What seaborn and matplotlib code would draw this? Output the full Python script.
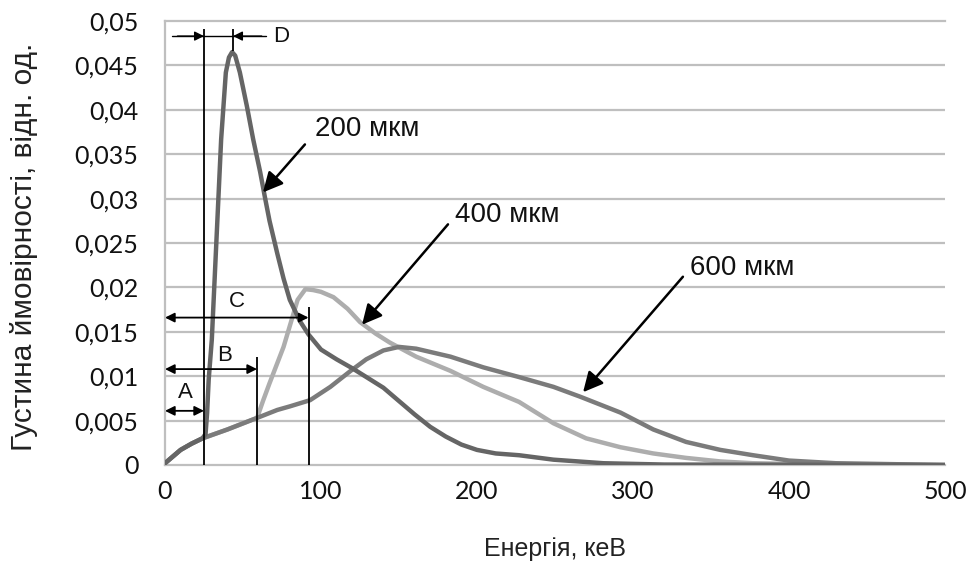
import matplotlib
matplotlib.use("Agg")
import matplotlib.pyplot as plt
import numpy as np
import pandas as pd
import seaborn as sns

# ---------------- data ----------------
series_names = ["200 мкм", "400 мкм", "600 мкм"]

e200 = [0, 4, 10, 17, 24, 26, 27, 28, 30, 33, 36, 39, 41, 43, 45, 48, 52.5, 56.5,
        61, 64, 67, 72, 76, 80, 86.5, 92, 100, 110, 120, 130, 140, 150, 160, 170,
        180, 190, 200, 212, 227, 249, 281, 320, 500]
p200 = [0.0002, 0.0008, 0.0017, 0.0024, 0.0030, 0.0035, 0.0059, 0.0096, 0.0141,
        0.0254, 0.0367, 0.0442, 0.0459, 0.0465, 0.0461, 0.0442, 0.0404, 0.0367,
        0.0330, 0.0302, 0.0275, 0.0238, 0.0210, 0.0186, 0.0162, 0.0147, 0.0130,
        0.0119, 0.0109, 0.0098, 0.0087, 0.0072, 0.0057, 0.0043, 0.0032, 0.0023,
        0.0017, 0.0013, 0.0011, 0.0006, 0.0002, 0.00005, 0.0]

e400 = [0, 4, 10, 17, 24, 40, 56, 59, 63, 67, 76, 85, 90, 95, 100, 108, 117, 125,
        135, 144, 161, 183, 204, 227, 249, 270, 292, 313, 334, 356, 377, 410, 500]
p400 = [0.0002, 0.0008, 0.0017, 0.0024, 0.0030, 0.0040, 0.0051, 0.0053, 0.0073,
        0.0092, 0.0133, 0.0186, 0.0198, 0.0197, 0.0195, 0.0189, 0.0176, 0.0161,
        0.0148, 0.0138, 0.0122, 0.0106, 0.0088, 0.0071, 0.0047, 0.0030, 0.0020,
        0.0013, 0.0008, 0.0004, 0.0002, 0.0001, 0.0]

e600 = [0, 4, 10, 17, 24, 40, 56, 59, 72, 80, 93, 106, 119, 129, 140, 150, 161,
        183, 204, 227, 249, 266, 292, 313, 334, 356, 377, 400, 430, 500]
p600 = [0.0002, 0.0008, 0.0017, 0.0024, 0.0030, 0.0040, 0.0051, 0.0053, 0.0062,
        0.0066, 0.0073, 0.0088, 0.0106, 0.0119, 0.0129, 0.0133, 0.0131, 0.0122,
        0.0110, 0.0099, 0.0088, 0.0077, 0.0059, 0.0040, 0.0026, 0.0017, 0.0011,
        0.0005, 0.0002, 0.0]

x_ticks = [0, 100, 200, 300, 400, 500]
y_ticks = [0, 0.005, 0.01, 0.015, 0.02, 0.025, 0.03, 0.035, 0.04, 0.045, 0.05]

# marker lines A, B, C (energy, top of line) and interval labels
mark_e = [25, 59, 92]
mark_top = [0.0491, 0.0122, 0.0178]
mark_labels = ["A", "B", "C"]
mark_arrow_y = [0.0061, 0.0108, 0.0166]
mark_label_pos = [(13, 0.0082), (38, 0.0123), (46, 0.0184)]
peak_e = 43.6

# series label arrows: (text pos, arrow tail, arrow head)
lab_text = [(96, 0.0378), (186, 0.0281), (336.5, 0.0222)]
lab_tail = [(89.7, 0.0361), (181.4, 0.0271), (332, 0.0212)]
lab_head = [(62.8, 0.0307), (126.3, 0.0158), (268, 0.0082)]

# ---------------- figure ----------------
sns.set_theme(style="white")
plt.rcParams["font.family"] = ["Liberation Sans", "DejaVu Sans"]

df = pd.concat([
    pd.DataFrame({"E": e200, "p": p200, "series": series_names[0]}),
    pd.DataFrame({"E": e400, "p": p400, "series": series_names[1]}),
    pd.DataFrame({"E": e600, "p": p600, "series": series_names[2]}),
], ignore_index=True)

fig = plt.figure(figsize=(9.74, 5.73), dpi=100)
ax = fig.add_axes([165 / 974, 1 - 465 / 573, 780 / 974, 444 / 573])

grid_c = "#bfbfbf"
for v in y_ticks[1:-1]:
    ax.axhline(v, color=grid_c, lw=1.6, zorder=0)

palette = {series_names[0]: "#656565", series_names[1]: "#adadad",
           series_names[2]: "#7b7b7b"}
sns.lineplot(data=df, x="E", y="p", hue="series",
             hue_order=[series_names[1], series_names[2], series_names[0]],
             palette=palette, estimator=None, sort=False, lw=3.2,
             legend=False, ax=ax, zorder=3)

ax.set_xlim(0, 500)
ax.set_ylim(0, 0.05)
ax.set_xticks(x_ticks)
ax.set_yticks(y_ticks)
ax.set_xticklabels([str(t) for t in x_ticks])
ax.set_yticklabels([("%g" % t).replace(".", ",") for t in y_ticks])
ax.tick_params(axis="both", length=0, labelsize=18, colors="#111111")
ax.tick_params(axis="y", pad=19)
ax.tick_params(axis="x", pad=11)
for lab in ax.get_xticklabels() + ax.get_yticklabels():
    lab.set_family(["Lato", "DejaVu Sans"])

for s in ["left", "bottom", "top"]:
    ax.spines[s].set_color(grid_c)
    ax.spines[s].set_linewidth(1.6)
ax.spines["right"].set_visible(False)

ax.set_xlabel("Енергія, кеВ", fontsize=18, color="#222222")
ax.set_ylabel("Густина ймовірності, відн. од.", fontsize=21.5, color="#222222")
ax.xaxis.set_label_coords(0.5, -0.163)
ax.yaxis.set_label_coords(-0.163, 0.491)

# vertical marker lines
ax.vlines(mark_e, 0, mark_top, colors="black", lw=1.3, zorder=4)

# A, B, C double arrows
for e, ya, lab, (tx, ty) in zip(mark_e, mark_arrow_y, mark_labels, mark_label_pos):
    ax.annotate("", xy=(e, ya), xytext=(0, ya),
                arrowprops=dict(arrowstyle="<|-|>", color="black", lw=1.3,
                                mutation_scale=14, shrinkA=0, shrinkB=0),
                zorder=5)
    ax.text(tx, ty, lab, fontsize=16, ha="center", va="center", color="#111111")

# D annotation
yd = 0.0483
ax.plot([4.5, 65], [yd, yd], color="black", lw=1.0, zorder=4)
ax.annotate("", xy=(mark_e[0], yd), xytext=(8, yd),
            arrowprops=dict(arrowstyle="-|>", color="black", lw=1.0,
                            mutation_scale=14, shrinkA=0, shrinkB=0))
ax.annotate("", xy=(peak_e, yd), xytext=(62, yd),
            arrowprops=dict(arrowstyle="-|>", color="black", lw=1.0,
                            mutation_scale=14, shrinkA=0, shrinkB=0))
ax.vlines([peak_e], 0.0466, 0.0491, colors="black", lw=1.3, zorder=4)
ax.text(69, yd, "D", fontsize=16, ha="left", va="center", color="#111111")

# series labels with arrows
for name, (tx, ty), tail, head in zip(series_names, lab_text, lab_tail, lab_head):
    ax.annotate("", xy=head, xytext=tail,
                arrowprops=dict(arrowstyle="-|>", color="black", lw=1.8,
                                mutation_scale=30, shrinkA=0, shrinkB=0),
                zorder=6)
    ax.text(tx, ty, name, fontsize=20, ha="left", va="center", color="#111111")

fig.savefig("out.png", dpi=100, facecolor="white")
